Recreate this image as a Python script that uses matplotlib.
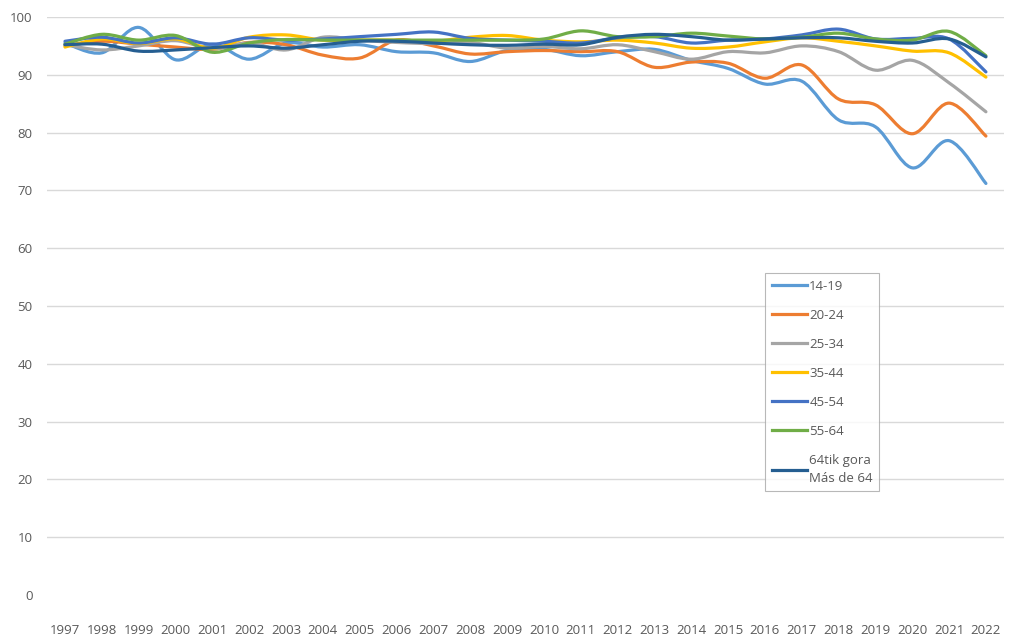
#!/usr/bin/env python3
import matplotlib
matplotlib.use("Agg")
import matplotlib.pyplot as plt
from matplotlib.path import Path
from matplotlib.patches import PathPatch
from matplotlib.lines import Line2D

# Data
years = list(range(1997, 2023))

s14_19 = [95.5, 93.8, 98.2, 92.6, 95.3, 92.7, 95.5, 94.8, 95.2, 94.0, 93.8, 92.3, 94.2,
          94.4, 93.3, 94.0, 94.4, 92.5, 91.1, 88.4, 88.9, 82.2, 81.0, 73.9, 78.6, 71.2]
s20_24 = [95.0, 95.8, 95.3, 94.8, 94.4, 95.6, 95.2, 93.4, 92.9, 96.0, 95.0, 93.6, 94.0,
          94.2, 94.0, 94.0, 91.3, 92.2, 92.0, 89.4, 91.7, 85.8, 84.8, 79.8, 85.1, 79.4]
s25_34 = [95.2, 94.3, 95.0, 95.9, 94.5, 95.5, 94.3, 96.5, 96.0, 95.6, 95.4, 95.6, 94.6,
          94.9, 94.5, 95.2, 94.0, 92.7, 94.0, 93.8, 95.0, 94.0, 90.8, 92.5, 88.6, 83.6]
s35_44 = [94.8, 96.2, 95.4, 96.2, 94.6, 96.5, 96.9, 96.0, 96.0, 96.0, 95.8, 96.5, 96.8,
          96.0, 95.7, 96.0, 95.5, 94.6, 94.8, 95.7, 96.4, 95.8, 95.0, 94.1, 93.8, 89.6]
s45_54 = [95.8, 96.5, 95.5, 96.4, 95.3, 96.4, 96.0, 96.2, 96.6, 97.0, 97.4, 96.3, 96.0,
          95.8, 95.5, 96.4, 96.6, 95.5, 96.0, 96.2, 96.9, 97.9, 96.2, 96.3, 96.2, 90.5]
s55_64 = [95.3, 97.0, 96.0, 96.8, 93.9, 95.5, 96.1, 96.0, 96.0, 96.0, 96.0, 96.0, 96.0,
          96.2, 97.6, 96.6, 96.6, 97.2, 96.7, 96.2, 96.5, 97.2, 96.2, 96.0, 97.5, 93.3]
s64_plus = [95.2, 95.3, 94.1, 94.3, 94.7, 95.0, 94.6, 95.2, 95.8, 95.8, 95.5, 95.2, 95.1,
            95.3, 95.2, 96.5, 97.0, 96.6, 96.0, 96.2, 96.4, 96.4, 95.8, 95.5, 96.2, 93.1]

labels = ["14-19", "20-24", "25-34", "35-44", "45-54", "55-64", "64tik gora\nMás de 64"]
series = [s14_19, s20_24, s25_34, s35_44, s45_54, s55_64, s64_plus]
colors = ["#5B9BD5", "#ED7D31", "#A5A5A5", "#FFC000", "#4472C4", "#70AD47", "#255E91"]


def smooth_path(xs, ys):
    # Excel-style smoothed line: cubic Bezier segments through every point
    n = len(xs)
    verts = [(xs[0], ys[0])]
    codes = [Path.MOVETO]
    for i in range(n - 1):
        p0 = i - 1 if i > 0 else i
        p3 = i + 2 if i + 2 < n else i + 1
        c1 = (xs[i] + (xs[i + 1] - xs[p0]) / 6, ys[i] + (ys[i + 1] - ys[p0]) / 6)
        c2 = (xs[i + 1] - (xs[p3] - xs[i]) / 6, ys[i + 1] - (ys[p3] - ys[i]) / 6)
        verts += [c1, c2, (xs[i + 1], ys[i + 1])]
        codes += [Path.CURVE4] * 3
    return Path(verts, codes)


plt.rcParams['font.family'] = ['Open Sans', 'DejaVu Sans']
fig = plt.figure(figsize=(10.15, 6.39), dpi=100)
ax = fig.add_axes([0.0459, 0.0689, 0.9436, 0.9045])

handles = []
for vals, lab, col in zip(series, labels, colors):
    patch = PathPatch(smooth_path(years, vals), facecolor="none", edgecolor=col,
                      linewidth=2.3, capstyle="round", joinstyle="round", zorder=3)
    ax.add_patch(patch)
    handles.append(Line2D([], [], color=col, linewidth=2.3, label=lab))

ax.set_xlim(1996.5, 2022.5)
ax.set_ylim(0, 100)
ax.set_xticks(years)
ax.set_xticklabels([str(y) for y in years])
ax.set_yticks(range(0, 101, 10))

# gridlines (no line at zero in the original)
for v in range(10, 101, 10):
    ax.axhline(v, color="#D9D9D9", linewidth=1.0, zorder=1)

for s in ax.spines.values():
    s.set_visible(False)
ax.tick_params(axis="both", length=0, labelsize=9.5, colors="#595959")
ax.tick_params(axis="x", pad=21)
ax.tick_params(axis="y", pad=10)

leg = fig.legend(handles=handles, loc="upper left", bbox_to_anchor=(0.7537, 0.5728),
                 frameon=True, fancybox=False, fontsize=9.5, labelcolor="#595959",
                 handlelength=2.7, handletextpad=0.15, labelspacing=1.22,
                 borderpad=0.5, borderaxespad=0)
for t in leg.get_texts():
    t.set_linespacing(1.45)
leg.get_frame().set_edgecolor("#A6A6A6")
leg.get_frame().set_linewidth(0.8)

fig.savefig("out.png", dpi=100)
